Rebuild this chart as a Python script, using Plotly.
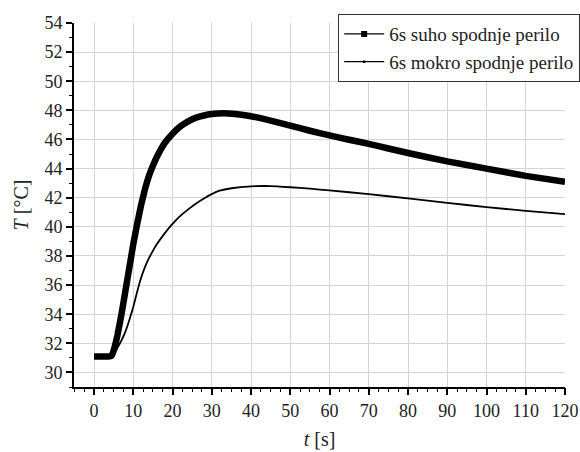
import plotly.graph_objects as go

# Data
t_dry = [0, 1, 2, 3, 4, 4.5, 5, 5.5, 6, 7, 8, 9, 10, 11, 12, 13, 14, 15, 16, 18,
         20, 22, 24, 26, 28, 30, 33, 36, 40, 45, 50, 55, 60, 65, 70, 75, 80, 90, 100, 110, 120]
T_dry = [31.1, 31.1, 31.1, 31.1, 31.1, 31.15, 31.5, 32.0, 32.6, 34.0, 35.6, 37.2, 38.8,
         40.2, 41.5, 42.6, 43.5, 44.2, 44.8, 45.75, 46.4, 46.9, 47.25, 47.5, 47.65, 47.75,
         47.8, 47.75, 47.6, 47.3, 46.95, 46.6, 46.28, 45.98, 45.7, 45.38, 45.07, 44.5,
         44.0, 43.5, 43.1]

t_wet = [0, 1, 2, 3, 4, 5, 6, 7, 8, 9, 10, 11, 12, 13, 14, 15, 16, 18, 20, 22, 24, 26,
         28, 30, 32, 35, 40, 45, 50, 55, 60, 70, 80, 90, 100, 110, 120]
T_wet = [31.1, 31.1, 31.1, 31.1, 31.1, 31.2, 31.7, 32.2, 32.8, 33.6, 34.5, 35.55, 36.5,
         37.25, 37.85, 38.35, 38.8, 39.55, 40.2, 40.75, 41.2, 41.6, 41.95, 42.25, 42.48,
         42.65, 42.78, 42.8, 42.72, 42.62, 42.5, 42.25, 41.95, 41.65, 41.35, 41.1, 40.87]

series_names = ["6s suho spodnje perilo", "6s mokro spodnje perilo"]

FONT = "Liberation Serif"

fig = go.Figure()
# data curves
fig.add_trace(go.Scatter(
    x=t_dry, y=T_dry, name=series_names[0], mode="lines", showlegend=False,
    line=dict(color="black", width=6.5, shape="spline", smoothing=0.3),
))
fig.add_trace(go.Scatter(
    x=t_wet, y=T_wet, name=series_names[1], mode="lines", showlegend=False,
    line=dict(color="black", width=1.8, shape="spline", smoothing=0.3),
))
# legend entries (line with square marker, as in the reference)
fig.add_trace(go.Scatter(
    x=[None], y=[None], name=series_names[0], mode="lines+markers",
    line=dict(color="black", width=1.2),
    marker=dict(symbol="square", size=6, color="black"),
))
fig.add_trace(go.Scatter(
    x=[None], y=[None], name=series_names[1], mode="lines+markers",
    line=dict(color="black", width=1.2),
    marker=dict(symbol="square", size=2.5, color="black"),
))

X_RANGE = [-5.1, 120]
Y_RANGE = [29, 54]

axis_common = dict(
    showline=True, linecolor="black", linewidth=2,
    ticks="outside", ticklen=6, tickwidth=1.5, tickcolor="black",
    showgrid=True, gridcolor="#d4d4d4", gridwidth=1,
    zeroline=False, tickfont=dict(family=FONT, size=18, color="#222"),
    title_font=dict(family=FONT, size=20, color="#222"),
    automargin=False, tickangle=0,
)

minor_common = dict(
    showline=False, showgrid=False, zeroline=False, showticklabels=False,
    ticks="outside", ticklen=4, tickwidth=1.2, tickcolor="black",
    automargin=False,
)

fig.update_layout(
    xaxis=dict(range=X_RANGE, tick0=0, dtick=10, title_text="<i>t</i> [s]",
               title_standoff=12, **axis_common),
    yaxis=dict(range=Y_RANGE, tick0=30, dtick=2, title_text="<i>T</i> [°C]",
               title_standoff=10, **axis_common),
    # minor tick axes (ticks only)
    xaxis2=dict(range=X_RANGE, tick0=0, dtick=2.5, overlaying="x", side="bottom",
                anchor="y", **minor_common),
    yaxis2=dict(range=Y_RANGE, tick0=30, dtick=1, overlaying="y", side="left",
                anchor="x", **minor_common),
)
# dummy trace to activate the minor-tick axes
fig.add_trace(go.Scatter(x=[None], y=[None], xaxis="x2", yaxis="y2",
                         showlegend=False, hoverinfo="skip"))

fig.update_layout(
    width=580, height=452,
    margin=dict(l=74, r=15, t=23, b=65, autoexpand=False),
    plot_bgcolor="white", paper_bgcolor="white",
    font=dict(family=FONT, color="#222"),
    legend=dict(
        x=1.0305, xanchor="right", y=1.025, yanchor="top",
        bgcolor="white", bordercolor="#333", borderwidth=1.2,
        font=dict(family=FONT, size=19, color="#222"),
        tracegroupgap=0, itemwidth=40,
    ),
    showlegend=True,
)

fig.write_html("out.html")
